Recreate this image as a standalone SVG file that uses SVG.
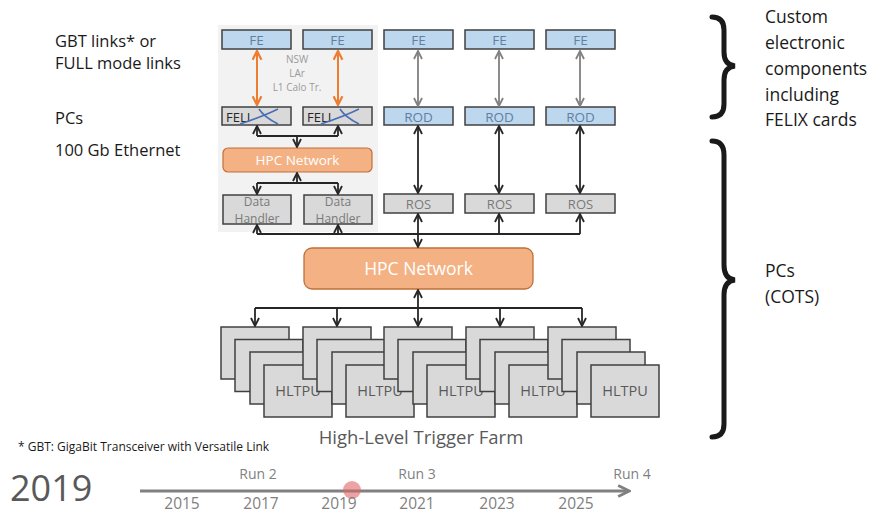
<svg xmlns="http://www.w3.org/2000/svg" width="878" height="513" viewBox="0 0 878 513">
<style>
text{font-family:"Open Sans","Liberation Sans",sans-serif}
.bx{stroke:#404040;stroke-width:1.5}
.blue{fill:#bdd7ee}
.grey{fill:#d9d9d9}
.bt{fill:#5f80a3;font-size:13.5px;text-anchor:middle}
.gt{fill:#7a7a7a;font-size:13px;text-anchor:middle}
.dt{fill:#7a7a7a;font-size:12px;text-anchor:middle}
.ht{fill:#595959;font-size:14.5px;text-anchor:middle}
.lab{fill:#1a1a1a;font-size:16.5px}
.rl{fill:#1a1a1a;font-size:17.5px}
.dk{stroke:#262626;stroke-width:1.8;fill:none}
.gr{stroke:#808080;stroke-width:1.8;fill:none}
.or{stroke:#ed7d31;stroke-width:2;fill:none}
.yr{fill:#7f7f7f;font-size:15.5px;text-anchor:middle}
.rn{fill:#7f7f7f;font-size:14px;text-anchor:middle}
</style>
<defs>
<marker id="aD" viewBox="0 0 10 10" refX="9" refY="5" markerWidth="10" markerHeight="10" markerUnits="userSpaceOnUse" orient="auto-start-reverse"><path d="M1,1 L9,5 L1,9" fill="none" stroke="#262626" stroke-width="1.8"/></marker>
<marker id="aG" viewBox="0 0 10 10" refX="9" refY="5" markerWidth="10" markerHeight="10" markerUnits="userSpaceOnUse" orient="auto-start-reverse"><path d="M1,1 L9,5 L1,9" fill="none" stroke="#808080" stroke-width="1.8"/></marker>
<marker id="aO" viewBox="0 0 10 10" refX="9" refY="5" markerWidth="11" markerHeight="11" markerUnits="userSpaceOnUse" orient="auto-start-reverse"><path d="M1,1 L9,5 L1,9" fill="none" stroke="#ed7d31" stroke-width="2"/></marker>
<marker id="aT" viewBox="0 0 10 10" refX="8" refY="5" markerWidth="14" markerHeight="14" markerUnits="userSpaceOnUse" orient="auto"><path d="M1,1 L9,5 L1,9" fill="none" stroke="#808080" stroke-width="2"/></marker>
<g id="hl">
<rect width="68" height="52" class="bx grey"/>
</g>
<g id="stack">
<use href="#hl" x="0" y="0"/>
<use href="#hl" x="14" y="12.5"/>
<use href="#hl" x="29" y="25"/>
<use href="#hl" x="43" y="38"/>
<text x="77" y="69" class="ht">HLTPU</text>
</g>
</defs>
<rect width="878" height="513" fill="#ffffff"/>
<rect id="panel" x="218" y="25" width="160" height="207" fill="#f2f2f2"/>

<g id="left-labels">
<text x="55" y="47" class="lab">GBT links* or</text>
<text x="55" y="69" class="lab">FULL mode links</text>
<text x="55" y="124" class="lab">PCs</text>
<text x="55" y="156" class="lab">100 Gb Ethernet</text>
</g>

<g id="fe1"><rect x="222" y="30" width="69" height="19" class="bx blue"/><text x="256.5" y="44.5" class="bt">FE</text></g>
<g id="fe2"><rect x="303" y="30" width="69" height="19" class="bx blue"/><text x="337.5" y="44.5" class="bt">FE</text></g>
<g id="fe3"><rect x="384" y="30" width="69" height="19" class="bx blue"/><text x="418.5" y="44.5" class="bt">FE</text></g>
<g id="fe4"><rect x="465" y="30" width="69" height="19" class="bx blue"/><text x="499.5" y="44.5" class="bt">FE</text></g>
<g id="fe5"><rect x="546" y="30" width="69" height="19" class="bx blue"/><text x="580.5" y="44.5" class="bt">FE</text></g>

<g id="detnote" fill="#9a9a9a" font-size="10" text-anchor="middle">
<text x="297" y="63">NSW</text>
<text x="297" y="77">LAr</text>
<text x="297" y="91">L1 Calo Tr.</text>
</g>

<g id="felix1"><rect x="222" y="107" width="69" height="18" class="bx grey"/><text x="226" y="121.5" fill="#262626" font-size="13">FELI</text><path d="M259,109 Q264,117 278,124 M278,109 Q264,116 240,124" stroke="#4a6fb5" stroke-width="1.6" fill="none"/></g>
<g id="felix2"><rect x="303" y="107" width="69" height="18" class="bx grey"/><text x="307" y="121.5" fill="#262626" font-size="13">FELI</text><path d="M340,109 Q345,117 359,124 M359,109 Q345,116 321,124" stroke="#4a6fb5" stroke-width="1.6" fill="none"/></g>
<g id="rod1"><rect x="384" y="107" width="69" height="18" class="bx blue"/><text x="418.5" y="121.5" class="bt">ROD</text></g>
<g id="rod2"><rect x="465" y="107" width="69" height="18" class="bx blue"/><text x="499.5" y="121.5" class="bt">ROD</text></g>
<g id="rod3"><rect x="546" y="107" width="69" height="18" class="bx blue"/><text x="580.5" y="121.5" class="bt">ROD</text></g>

<g id="hpc-small"><rect x="223" y="148" width="149" height="24" rx="5" fill="#f4b183" stroke="#c0703a" stroke-width="1.2"/><text x="297.5" y="165" fill="#ffffff" font-size="13.5" text-anchor="middle">HPC Network</text></g>

<g id="dh1"><rect x="223" y="195" width="68" height="29" class="bx grey"/><text x="257" y="205.5" class="dt">Data</text><text x="257" y="222.5" class="dt">Handler</text></g>
<g id="dh2"><rect x="304" y="195" width="68" height="29" class="bx grey"/><text x="338" y="205.5" class="dt">Data</text><text x="338" y="222.5" class="dt">Handler</text></g>
<g id="ros1"><rect x="384" y="194" width="69" height="19" class="bx grey"/><text x="418.5" y="208.5" class="gt">ROS</text></g>
<g id="ros2"><rect x="465" y="194" width="69" height="19" class="bx grey"/><text x="499.5" y="208.5" class="gt">ROS</text></g>
<g id="ros3"><rect x="546" y="194" width="69" height="19" class="bx grey"/><text x="580.5" y="208.5" class="gt">ROS</text></g>

<g id="hpc-main"><rect x="304" y="248" width="229" height="41" rx="8" fill="#f4b183" stroke="#c0703a" stroke-width="1.3"/><text x="418.5" y="275" fill="#ffffff" font-size="17.5" text-anchor="middle">HPC Network</text></g>

<g id="hltpu1"><use href="#stack" x="221" y="327"/></g>
<g id="hltpu2"><use href="#stack" x="303" y="327"/></g>
<g id="hltpu3"><use href="#stack" x="384" y="327"/></g>
<g id="hltpu4"><use href="#stack" x="466" y="327"/></g>
<g id="hltpu5"><use href="#stack" x="548" y="327"/></g>

<g id="connectors">
<line x1="257" y1="51" x2="257" y2="105" class="or" marker-start="url(#aO)" marker-end="url(#aO)"/>
<line x1="338" y1="51" x2="338" y2="105" class="or" marker-start="url(#aO)" marker-end="url(#aO)"/>
<line x1="418" y1="51" x2="418" y2="106" class="gr" marker-start="url(#aG)" marker-end="url(#aG)"/>
<line x1="499" y1="51" x2="499" y2="106" class="gr" marker-start="url(#aG)" marker-end="url(#aG)"/>
<line x1="580" y1="51" x2="580" y2="106" class="gr" marker-start="url(#aG)" marker-end="url(#aG)"/>
<line x1="418" y1="126" x2="418" y2="193" class="dk" marker-start="url(#aD)" marker-end="url(#aD)"/>
<line x1="499" y1="126" x2="499" y2="193" class="dk" marker-start="url(#aD)" marker-end="url(#aD)"/>
<line x1="580" y1="126" x2="580" y2="193" class="dk" marker-start="url(#aD)" marker-end="url(#aD)"/>
<path d="M257,136 H338" class="dk"/>
<line x1="257" y1="136" x2="257" y2="126" class="dk" marker-end="url(#aD)"/>
<line x1="338" y1="136" x2="338" y2="126" class="dk" marker-end="url(#aD)"/>
<line x1="297" y1="136" x2="297" y2="147" class="dk" marker-end="url(#aD)"/>
<path d="M257,183 H338" class="dk"/>
<line x1="297" y1="183" x2="297" y2="173" class="dk" marker-end="url(#aD)"/>
<line x1="257" y1="183" x2="257" y2="194" class="dk" marker-end="url(#aD)"/>
<line x1="338" y1="183" x2="338" y2="194" class="dk" marker-end="url(#aD)"/>
<path d="M257,234 H580" class="dk"/>
<line x1="257" y1="234" x2="257" y2="225" class="dk" marker-end="url(#aD)"/>
<line x1="338" y1="234" x2="338" y2="225" class="dk" marker-end="url(#aD)"/>
<line x1="418" y1="234" x2="418" y2="214" class="dk" marker-end="url(#aD)"/>
<line x1="499" y1="234" x2="499" y2="214" class="dk" marker-end="url(#aD)"/>
<line x1="580" y1="234" x2="580" y2="214" class="dk" marker-end="url(#aD)"/>
<line x1="418" y1="234" x2="418" y2="247" class="dk" marker-end="url(#aD)"/>
<path d="M255,308 H582" class="dk"/>
<line x1="418" y1="308" x2="418" y2="290" class="dk" marker-end="url(#aD)"/>
<line x1="255" y1="308" x2="255" y2="326" class="dk" marker-end="url(#aD)"/>
<line x1="337" y1="308" x2="337" y2="326" class="dk" marker-end="url(#aD)"/>
<line x1="418" y1="308" x2="418" y2="326" class="dk" marker-end="url(#aD)"/>
<line x1="500" y1="308" x2="500" y2="326" class="dk" marker-end="url(#aD)"/>
<line x1="582" y1="308" x2="582" y2="326" class="dk" marker-end="url(#aD)"/>
</g>

<text id="farm" x="421" y="444" fill="#595959" font-size="18.5" text-anchor="middle">High-Level Trigger Farm</text>
<text id="footnote" x="18" y="451" fill="#1a1a1a" font-size="12">* GBT: GigaBit Transceiver with Versatile Link</text>

<g id="braces" fill="none" stroke="#1a1a1a" stroke-width="5" stroke-linecap="round">
<path d="M712,17 Q724,17 724,30 V52 Q724,65 735,66 Q724,67 724,80 V104 Q724,117 712,117"/>
<path d="M712,141 Q724,141 724,155 V265 Q724,279 735,280 Q724,281 724,295 V424 Q724,437 712,437"/>
</g>
<g id="right-labels">
<text x="765" y="23" class="rl">Custom</text>
<text x="765" y="49" class="rl">electronic</text>
<text x="765" y="75" class="rl">components</text>
<text x="765" y="101" class="rl">including</text>
<text x="765" y="126" class="rl">FELIX cards</text>
<text x="765" y="277" class="rl">PCs</text>
<text x="765" y="303" class="rl">(COTS)</text>
</g>

<g id="timeline">
<text x="10" y="501" fill="#595959" font-size="36">2019</text>
<line x1="140" y1="491" x2="628" y2="491" stroke="#808080" stroke-width="3" marker-end="url(#aT)"/>
<circle cx="352" cy="490" r="9" fill="#e06666" fill-opacity="0.6"/>
<text x="258" y="479" class="rn">Run 2</text>
<text x="417" y="479" class="rn">Run 3</text>
<text x="632" y="479" class="rn" text-anchor="end">Run 4</text>
<text x="182" y="509" class="yr">2015</text>
<text x="261" y="509" class="yr">2017</text>
<text x="339" y="509" class="yr">2019</text>
<text x="417" y="509" class="yr">2021</text>
<text x="497" y="509" class="yr">2023</text>
<text x="576" y="509" class="yr">2025</text>
</g>
</svg>
